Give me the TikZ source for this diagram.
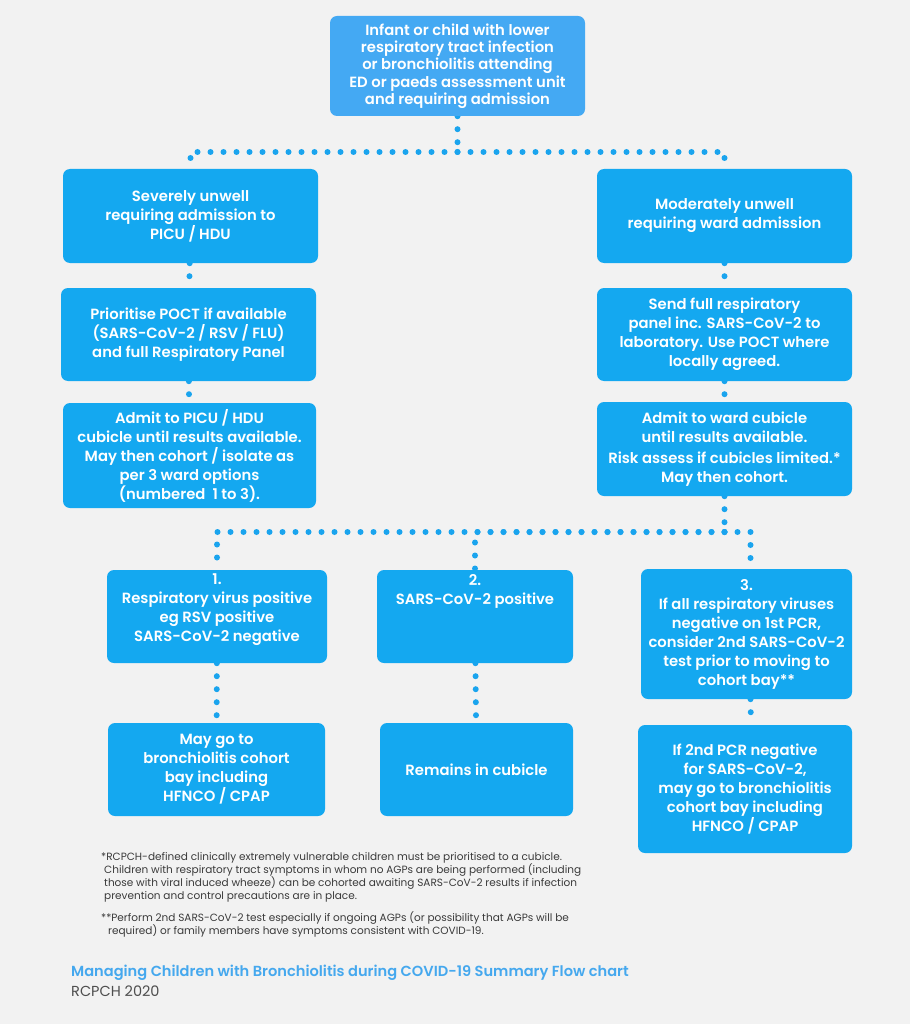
\documentclass[tikz,border=0pt]{standalone}
\usepackage{fontspec}
\setmainfont{Poppins}
\newfontfamily\bx{Poppins SemiBold}
\pgfdeclarelayer{bglayer}
\pgfdeclarelayer{lines}
\pgfsetlayers{bglayer,lines,main}
\definecolor{bg}{HTML}{F2F2F2}
\definecolor{topblue}{HTML}{44A9F3}
\definecolor{boxblue}{HTML}{14A8F0}
\definecolor{dotblue}{HTML}{1AA4EE}
\definecolor{titleblue}{HTML}{45A8EE}
\definecolor{notegrey}{HTML}{3A3A3A}
\tikzset{
  flowbox/.style={rectangle, rounded corners=7pt, fill=boxblue, inner sep=0pt, text=white, align=center,
    font=\bx\fontsize{14.8}{19}\selectfont},
  topbox/.style={flowbox, fill=topblue, font=\bx\fontsize{14.8}{17.3}\selectfont},
  boxtxt/.style={inner sep=0pt, text=white, align=center, font=\bx\fontsize{14.8}{19}\selectfont},
  dots/.style={draw=dotblue, line width=6pt, line cap=round, dash pattern=on 0pt off 13pt},
  note/.style={inner sep=0pt, text=notegrey, align=left, anchor=north west, font=\fontsize{10.5}{13}\selectfont},
}
\begin{document}
\begin{tikzpicture}[x=1pt, y=-1pt]
\begin{pgfonlayer}{bglayer}
\fill[bg] (0,0) rectangle (910,1024);
\end{pgfonlayer}
\useasboundingbox (0,0) rectangle (910,1024);

% top
\node[topbox, minimum width=255pt, minimum height=100pt] (top) at (457.5,66)
  {Infant or child with lower\\respiratory tract infection\\or bronchiolitis attending\\ED or paeds assessment unit\\and requiring admission};

% left column
\node[flowbox, minimum width=255pt, minimum height=94pt] (L1) at (190.5,216)
  {Severely unwell\\requiring admission to\\PICU / HDU};
\node[flowbox, minimum width=255pt, minimum height=93pt] (L2) at (188.5,334.5)
  {Prioritise POCT if available\\(SARS-CoV-2 / RSV / FLU)\\and full Respiratory Panel};
\node[flowbox, minimum width=253pt, minimum height=105pt] (L3) at (189.5,455.5)
  {Admit to PICU / HDU\\cubicle until results available.\\May then cohort / isolate as\\per 3 ward options\\(numbered\ \ 1 to 3).};

% right column
\node[flowbox, minimum width=255pt, minimum height=94pt] (R1) at (724.5,216)
  {Moderately unwell\\requiring ward admission};
\node[flowbox, minimum width=255pt, minimum height=93pt] (R2) at (724.5,334.5)
  {Send full respiratory\\panel inc. SARS-CoV-2 to\\laboratory. Use POCT where\\locally agreed.};
\node[flowbox, minimum width=255pt, minimum height=94pt] (R3) at (724.5,449)
  {Admit to ward cubicle\\until results available.\\[2pt]Risk assess if cubicles limited.*\\May then cohort.};

% bottom row
\node[flowbox, minimum width=220pt, minimum height=93pt] (B1) at (217,616.5) {};
\node[boxtxt, anchor=north] (B1t) at (217,574)
  {1.\\Respiratory virus positive\\eg RSV positive\\SARS-CoV-2 negative};
\node[flowbox, minimum width=196pt, minimum height=93pt] (B2) at (475,616.5) {};
\node[boxtxt, anchor=north] (B2t) at (475,574)
  {2.\\SARS-CoV-2 positive};
\node[flowbox, minimum width=211pt, minimum height=130pt] (B3) at (746.5,634)
  {3.\\If all respiratory viruses\\negative on 1st PCR,\\consider 2nd SARS-CoV-2\\test prior to moving to\\cohort bay**};

\node[flowbox, minimum width=217pt, minimum height=93pt] (C1) at (216.5,769.5)
  {May go to\\bronchiolitis cohort\\bay including\\HFNCO / CPAP};
\node[flowbox, minimum width=193pt, minimum height=93pt] (C2) at (476.5,769.5)
  {Remains in cubicle};
\node[flowbox, minimum width=214pt, minimum height=128pt] (C3) at (745,789)
  {If 2nd PCR negative\\for SARS-CoV-2,\\may go to bronchiolitis\\cohort bay including\\HFNCO / CPAP};

% connectors
\begin{pgfonlayer}{lines}
\coordinate (j1) at (457.5,152);
\coordinate (j2) at (724.5,532);
\draw[dots] (top.south) -- (j1);
\draw[dots] (j1) -| (L1.north);
\draw[dots] (j1) -| (R1.north);
\draw[dots] (L1) -- (L2);
\draw[dots] (L2) -- (L3);
\draw[dots] (R1) -- (R2);
\draw[dots] (R2) -- (R3);
\draw[dots] (R3.south) -- (j2);
\draw[dots] (j2) -| (B1.north);
\draw[dots] (j2) -| (B2.north);
\draw[dots] (j2) -| ([xshift=4pt]B3.north);
\draw[dots] (B1) -- (C1);
\draw[dots] (B2) -- (C2);
\draw[dots] ([xshift=4pt]B3.south) -- ([xshift=6pt]C3.north);
\end{pgfonlayer}

% notes
\node[note] (n1) at (101,852)
  {*RCPCH-defined clinically extremely vulnerable children must be prioritised to a cubicle.\\
  \hspace*{3pt}Children with respiratory tract symptoms in whom no AGPs are being performed (including\\
  \hspace*{3pt}those with viral induced wheeze) can be cohorted awaiting SARS-CoV-2 results if infection\\
  \hspace*{3pt}prevention and control precautions are in place.};
\node[note] (n2) at (101,911)
  {**Perform 2nd SARS-CoV-2 test especially if ongoing AGPs (or possibility that AGPs will be\\
  \hspace*{7pt}required) or family members have symptoms consistent with COVID-19.};

\node[inner sep=0pt, anchor=west, text=titleblue, font=\bx\fontsize{14.6}{16}\selectfont] (title) at (71,973)
  {Managing Children with Bronchiolitis during COVID-19 Summary Flow chart};
\node[inner sep=0pt, anchor=west, text=notegrey!90, font=\fontsize{14.5}{16}\selectfont] (rc) at (71,991)
  {RCPCH 2020};
\end{tikzpicture}
\end{document}
